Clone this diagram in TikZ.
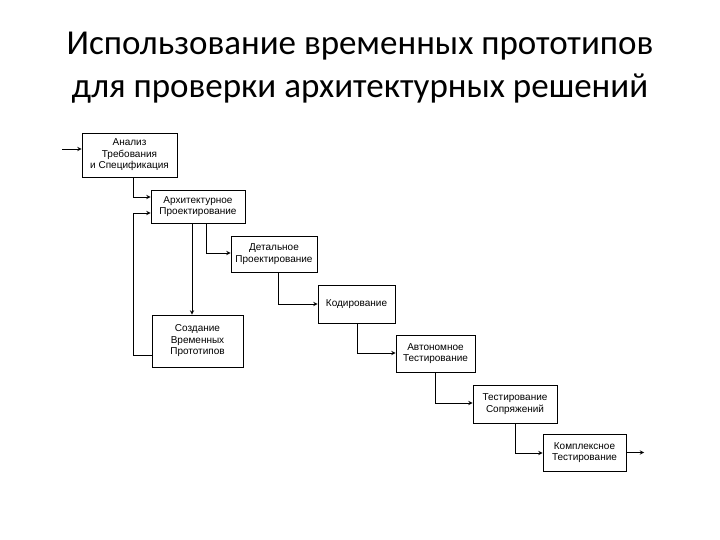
\documentclass[tikz,border=0pt]{standalone}
\usepackage{fontspec}
\setmainfont{Liberation Sans}
\newfontfamily\titlefont{Carlito}
\begin{document}
\begin{tikzpicture}[x=1pt,y=-1pt,
  box/.style={draw,line width=0.9pt,inner sep=0.5pt,align=center,font=\fontsize{10}{11.5}\selectfont},
  conn/.style={line width=0.9pt,-stealth}]
\useasboundingbox (0,0) rectangle (720,540);
\node[font=\titlefont\fontsize{35}{43}\selectfont,align=center] (title) at (360,68) {Использование временных прототипов\\для проверки архитектурных решений};
\node[box,minimum width=95,minimum height=44] (A) at (129.5,155) {Анализ\\Требования\\и Спецификация};
\node[box,minimum width=94,minimum height=33] (B) at (198,206.5) {Архитектурное\\Проектирование};
\node[box,minimum width=86,minimum height=36] (C) at (274,254) {Детальное\\Проектирование};
\node[box,minimum width=77,minimum height=38] (D) at (356.5,304) {Кодирование};
\node[box,minimum width=91,minimum height=52] (P) at (197.5,341) {Создание\\Временных\\Прототипов};
\node[box,minimum width=79,minimum height=37] (E) at (435.5,353.5) {Автономное\\Тестирование};
\node[box,minimum width=84,minimum height=38] (F) at (515,404) {Тестирование\\Сопряжений};
\node[box,minimum width=83,minimum height=37] (G) at (584.5,452.5) {Комплексное\\Тестирование};
\coordinate (in) at (62,149);
\coordinate (out) at (644,452.5);
\draw[conn] (in) -- (in -| A.west);
\draw[conn] (A.south -| 133,0) |- (B.west |- 0,197);
\draw[conn] (P.west |- 0,355) -| (133,213) -- (B.west |- 0,213);
\draw[conn] (B.south -| 192,0) -- (P.north -| 192,0);
\draw[conn] (B.south -| 206,0) |- (C.west |- 0,253);
\draw[conn] (C.south -| 278,0) |- (D.west |- 0,304);
\draw[conn] (D.south -| 357,0) |- (E.west |- 0,353);
\draw[conn] (E.south -| 435,0) |- (F.west |- 0,403);
\draw[conn] (F.south -| 515,0) |- (G.west |- 0,453);
\draw[conn] (G.east) -- (out);
\end{tikzpicture}
\end{document}
